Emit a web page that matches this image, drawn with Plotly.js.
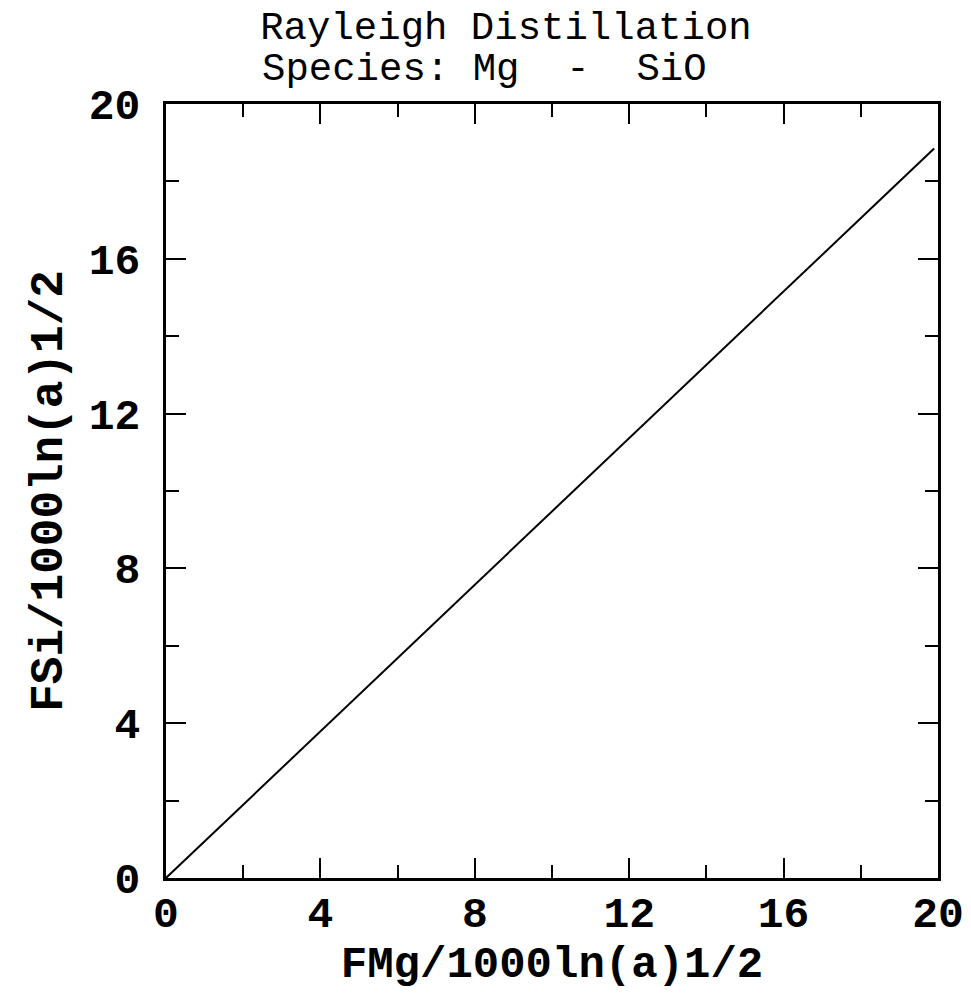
<!DOCTYPE html>
<html>
<head>
<meta charset="utf-8">
<script src="https://cdn.plot.ly/plotly-3.0.1.min.js"></script>
<style>html,body{margin:0;padding:0;background:#fff;}#chart{width:971px;height:999px;}</style>
</head>
<body>
<div id="chart"></div>
<script>
// Data
const fmg = [0, 19.9];
const fsi = [0, 18.85];
const tickVals = [0, 4, 8, 12, 16, 20];
const tickText = ["0", "4", "8", "12", "16", "20"];
const titleLine1 = "Rayleigh Distillation";
const titleLine2 = "Species: Mg\u00A0\u00A0-\u00A0\u00A0SiO";
const xLabel = "FMg/1000ln(a)1/2";
const yLabel = "FSi/1000ln(a)1/2";

const mono = "Liberation Mono, Courier New, monospace";

const axisCommon = {
  range: [0, 20],
  tickvals: tickVals,
  ticktext: tickText,
  ticks: "inside",
  ticklen: 20,
  tickwidth: 2,
  tickcolor: "#000",
  showline: true,
  linecolor: "#000",
  linewidth: 3,
  mirror: "allticks",
  showgrid: false,
  zeroline: false,
  tickfont: {family: mono, size: 43, color: "#000", weight: "bold"},
  minor: {dtick: 2, tick0: 0, ticks: "inside", ticklen: 13, tickwidth: 2, tickcolor: "#000", showgrid: false},
  fixedrange: true
};

const layout = {
  width: 971,
  height: 999,
  margin: {l: 166, r: 33, t: 104, b: 121},
  paper_bgcolor: "#fff",
  plot_bgcolor: "#fff",
  showlegend: false,
  title: {
    text: titleLine1,
    font: {family: mono, size: 39, color: "#000"},
    xref: "container", x: 0.268, xanchor: "left",
    yref: "container", y: 1 - 25 / 999, yanchor: "middle"
  },
  annotations: [{
    text: titleLine2,
    font: {family: mono, size: 39, color: "#000"},
    xref: "paper", x: (260 - 166) / 772, xanchor: "left",
    yref: "paper", y: 1 + (104 - 70) / 774, yanchor: "middle",
    showarrow: false
  }],
  xaxis: Object.assign({}, axisCommon, {
    title: {text: xLabel, font: {family: mono, size: 44, color: "#000", weight: "bold"}, standoff: 0},
    ticklabelstandoff: -6
  }),
  yaxis: Object.assign({}, axisCommon, {
    title: {text: yLabel, font: {family: mono, size: 46, color: "#000", weight: "bold"}, standoff: 12},
    ticklabelstandoff: 14
  })
};

const trace = {
  x: fmg,
  y: fsi,
  type: "scatter",
  mode: "lines",
  line: {color: "#000", width: 2},
  hoverinfo: "skip"
};

Plotly.newPlot("chart", [trace], layout, {displayModeBar: false, staticPlot: true});
</script>
</body>
</html>
